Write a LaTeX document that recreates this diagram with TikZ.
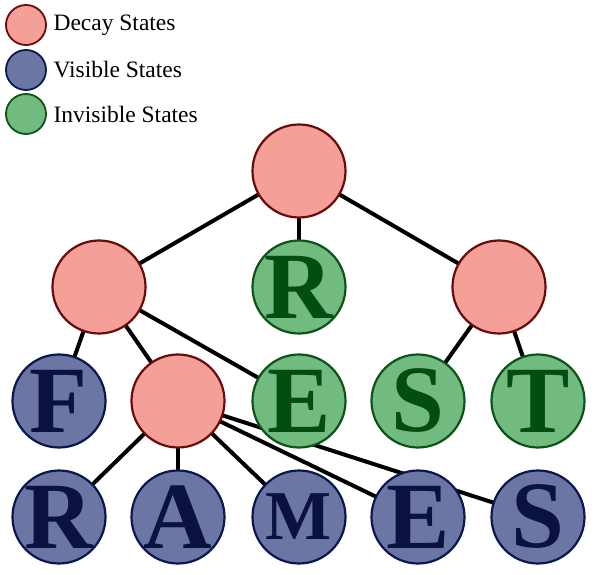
\documentclass[tikz,border=0pt]{standalone}
\usepackage{fontspec}
\setmainfont{Liberation Serif}
\usetikzlibrary{backgrounds}

\definecolor{decayfill}{HTML}{F4A098}
\definecolor{decayline}{HTML}{6A0C0C}
\definecolor{visfill}{HTML}{6B76A5}
\definecolor{visline}{HTML}{0B1850}
\definecolor{vistext}{HTML}{0B1240}
\definecolor{invfill}{HTML}{72BB80}
\definecolor{invline}{HTML}{0C5418}
\definecolor{invtext}{HTML}{024D12}

% letter that does not widen its circle
\newcommand{\glyph}[1]{\makebox[0pt]{#1}}

\begin{document}
\begin{tikzpicture}[x=1pt,y=-1pt,
    state/.style={circle,draw,line width=2.2pt,minimum size=93pt,inner sep=0pt,
        font=\fontsize{95}{95}\selectfont\bfseries},
    decaystate/.style={state,fill=decayfill,draw=decayline},
    visstate/.style={state,fill=visfill,draw=visline,text=vistext},
    invstate/.style={state,fill=invfill,draw=invline,text=invtext},
    keydot/.style={circle,line width=1.8pt,minimum size=40pt,inner sep=0pt},
    keytext/.style={anchor=west,font=\fontsize{23.5}{23.5}\selectfont},
    link/.style={line width=4pt}]
    \useasboundingbox (0,0) rectangle (598,575);

    % legend
    \node[keydot,fill=decayfill,draw=decayline] (kdecay) at (26,25) {};
    \node[keytext] (tdecay) at (50,25) {Decay States};
    \node[keydot,fill=visfill,draw=visline] (kvis) at (26,70) {};
    \node[keytext] (tvis) at (50,70) {Visible States};
    \node[keydot,fill=invfill,draw=invline] (kinv) at (26,114) {};
    \node[keytext] (tinv) at (50,114) {Invisible States};

    % tree
    \node[decaystate] (root) at (299,171) {};

    \node[decaystate] (left) at (99,287) {};
    \node[invstate] (r1) at (299,287) {\glyph{R}};
    \node[decaystate] (right) at (499,287) {};

    \node[visstate] (f) at (59,401) {\glyph{F}};
    \node[decaystate] (mid) at (178,401) {};
    \node[invstate] (e1) at (299,401) {\glyph{E}};
    \node[invstate] (s1) at (418,401) {\glyph{S}};
    \node[invstate] (t) at (538,401) {\glyph{T}};

    \node[visstate] (r2) at (59,517) {\glyph{R}};
    \node[visstate] (a) at (178,517) {\glyph{A}};
    \node[visstate,font=\fontsize{70}{70}\selectfont\bfseries] (m) at (299,517) {\glyph{M}};
    \node[visstate] (e2) at (418,517) {\glyph{E}};
    \node[visstate] (s2) at (538,517) {\glyph{S}};

    \begin{scope}[on background layer]
    \draw[link] (root.center) -- (left.center);
    \draw[link] (root.center) -- (r1.center);
    \draw[link] (root.center) -- (right.center);

    \draw[link] (left.center) -- (f.center);
    \draw[link] (left.center) -- (mid.center);
    \draw[link] (left.center) -- (e1.center);

    \draw[link] (right.center) -- (s1.center);
    \draw[link] (right.center) -- (t.center);

    \draw[link] (mid.center) -- (r2.center);
    \draw[link] (mid.center) -- (a.center);
    \draw[link] (mid.center) -- (m.center);
    \draw[link] (mid.center) -- (e2.center);
    \draw[link] (mid.center) -- (s2.center);
    \end{scope}
\end{tikzpicture}
\end{document}
